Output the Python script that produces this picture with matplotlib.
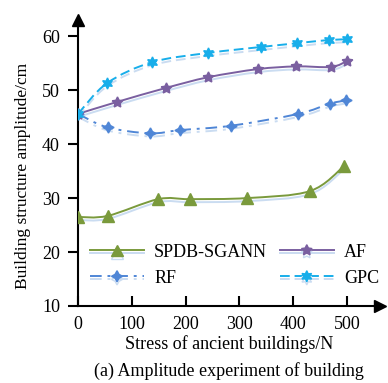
import numpy as np
import matplotlib
matplotlib.use("Agg")
import matplotlib.pyplot as plt
import matplotlib.patheffects as pe
from matplotlib.path import Path
from matplotlib.patches import PathPatch
from matplotlib.lines import Line2D

plt.rcParams["font.family"] = ["Liberation Serif", "DejaVu Serif"]

# values
sg_x = [0, 55, 149, 208, 314, 431, 494]
sg_y = [26.5, 26.7, 29.8, 29.8, 30.0, 31.3, 35.9]

af_x = [0, 72, 163, 242, 334, 405, 470, 500]
af_y = [45.6, 47.8, 50.4, 52.4, 53.9, 54.4, 54.3, 55.4]

rf_x = [0, 55, 134, 190, 284, 409, 468, 498]
rf_y = [45.6, 43.1, 42.0, 42.6, 43.4, 45.6, 47.5, 48.1]

gpc_x = [0, 54, 138, 242, 340, 407, 467, 500]
gpc_y = [45.6, 51.3, 55.2, 56.9, 58.0, 58.7, 59.3, 59.4]

GREEN  = "#7a9a3c"
PURPLE = "#7a5fa0"
RF_C   = "#4f86d6"
GPC_C  = "#18aeea"
SHADOW = "#cadcf1"
FS = 13

series = [
    ("SPDB-SGANN", sg_x, sg_y, GREEN, "-", "^"),
    ("RF", rf_x, rf_y, RF_C, (0, (6, 3, 1.5, 3)), (4, 1, 0)),
    ("AF", af_x, af_y, PURPLE, "-", (5, 1, 0)),
    ("GPC", gpc_x, gpc_y, GPC_C, (0, (5, 2.5)), (6, 1, 0)),
]

shadow = [pe.SimpleLineShadow(offset=(0, -2.2), shadow_color=SHADOW, alpha=1.0),
          pe.Normal()]


def smooth_path(xs, ys):
    # catmull-rom through the points, drawn as cubic bezier segments
    p = np.column_stack([xs, ys]).astype(float)
    ext = np.vstack([p[0], p, p[-1]])
    verts = [p[0]]
    codes = [Path.MOVETO]
    for i in range(len(p) - 1):
        p0, p1, p2, p3 = ext[i], ext[i + 1], ext[i + 2], ext[i + 3]
        c1 = p1 + (p2 - p0) / 6.0
        c2 = p2 - (p3 - p1) / 6.0
        verts += [c1, c2, p2]
        codes += [Path.CURVE4] * 3
    return Path(verts, codes)


fig = plt.figure(figsize=(3.88, 3.83), dpi=100)
ax = fig.add_axes([78 / 388, 77 / 383, 302 / 388, 286 / 383])

handles = []
for name, xs, ys, col, ls, mk in series:
    patch = PathPatch(smooth_path(xs, ys), facecolor="none", edgecolor=col,
                      lw=1.4, linestyle=ls, zorder=2)
    patch.set_path_effects(shadow)
    ax.add_patch(patch)
    ax.plot(xs, ys, linestyle="none", marker=mk, color=col, ms=8, zorder=3)
    h = Line2D([], [], color=col, lw=1.4, linestyle=ls, marker=mk, ms=8,
               path_effects=shadow)
    handles.append((h, name))

ax.set_xlim(0, 561)
ax.set_ylim(10, 63)
ax.set_xticks([0, 100, 200, 300, 400, 500])
ax.set_yticks([10, 20, 30, 40, 50, 60])

for s in ["top", "right"]:
    ax.spines[s].set_visible(False)
for s in ["left", "bottom"]:
    ax.spines[s].set_linewidth(1.5)
ax.tick_params(axis="x", direction="in", length=7, width=1.5, labelsize=FS, pad=7)
ax.tick_params(axis="y", direction="out", length=7, width=1.5, labelsize=FS, pad=6)

ax.plot(1, 10, ">k", ms=8, transform=ax.get_yaxis_transform(), clip_on=False)
ax.plot(0, 1, "^k", ms=8, transform=ax.get_xaxis_transform(), clip_on=False)

ax.set_xlabel("Stress of ancient buildings/N", fontsize=FS, labelpad=2)
ax.set_ylabel("Building structure amplitude/cm", fontsize=12.5)
ax.yaxis.set_label_coords(-0.155, 0.455)

ax.legend([h for h, _ in handles], [n for _, n in handles], ncol=2,
          loc="center", bbox_to_anchor=(0.518, 0.143), frameon=False,
          fontsize=FS, handlelength=3.0, labelspacing=0.5, columnspacing=0.7,
          handletextpad=0.55)

fig.text(229 / 388, 1 - 371 / 383, "(a) Amplitude experiment of building",
         ha="center", va="center", fontsize=FS)

plt.savefig("out.png", dpi=100)
